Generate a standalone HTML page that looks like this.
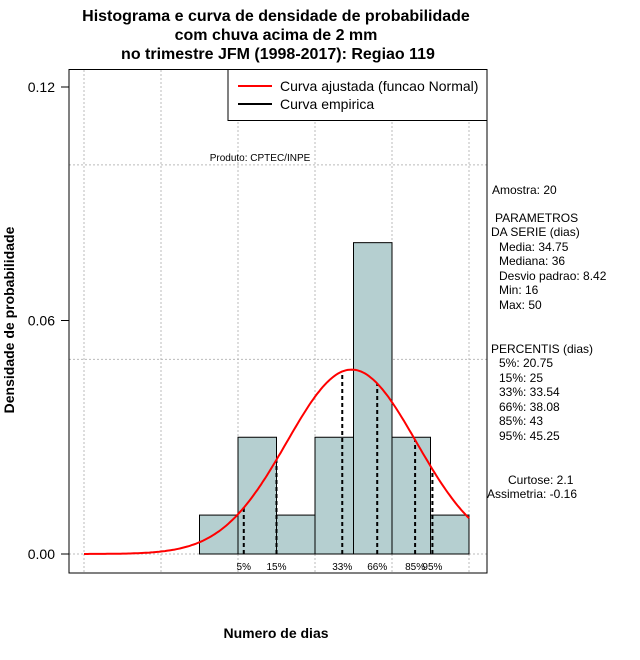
<!DOCTYPE html>
<html><head><meta charset="utf-8"><style>
body{margin:0;background:#fff}
svg{display:block;font-family:"Liberation Sans",sans-serif}
</style></head><body>
<svg id="c" width="640" height="660" viewBox="0 0 640 660">
<rect width="640" height="660" fill="#fff"/>
<g font-weight="bold" font-size="16" text-anchor="middle">
<text x="276" y="21">Histograma e curva de densidade de probabilidade</text>
<text x="276" y="40">com chuva acima de 2 mm</text>
<text x="278" y="59">no trimestre JFM (1998-2017): Regiao 119</text>
</g>
<g id="grid"></g>
<g id="bars"></g>
<g id="pct"></g>
<path id="curve" fill="none" stroke="#ff0000" stroke-width="2"/>
<rect x="69" y="69.5" width="418" height="503.5" fill="none" stroke="#000"/>
<g id="yaxis" font-size="14" text-anchor="end"></g>
<text x="14" y="320" font-size="14" font-weight="bold" text-anchor="middle" transform="rotate(-90 14 320)">Densidade de probabilidade</text>
<text x="276" y="638" font-size="14" font-weight="bold" text-anchor="middle">Numero de dias</text>
<text x="260" y="161" font-size="10" text-anchor="middle">Produto: CPTEC/INPE</text>
<g>
<rect x="228" y="69.5" width="259" height="51" fill="#fff" stroke="#000"/>
<line x1="238" y1="86" x2="272" y2="86" stroke="#ff0000" stroke-width="2"/>
<text x="280" y="91" font-size="14">Curva ajustada (funcao Normal)</text>
<line x1="238" y1="104" x2="272" y2="104" stroke="#000" stroke-width="2"/>
<text x="280" y="109" font-size="14">Curva empirica</text>
</g>
<g font-size="12">
<text x="492" y="194">Amostra: 20</text>
<text x="495" y="222">PARAMETROS</text>
<text x="491" y="236">DA SERIE (dias)</text>
<text x="499" y="251">Media: 34.75</text>
<text x="499" y="265">Mediana: 36</text>
<text x="499" y="280">Desvio padrao: 8.42</text>
<text x="499" y="294">Min: 16</text>
<text x="499" y="309">Max: 50</text>
<text x="491" y="353">PERCENTIS (dias)</text>
<text x="499" y="367">5%: 20.75</text>
<text x="499" y="382">15%: 25</text>
<text x="499" y="396">33%: 33.54</text>
<text x="499" y="411">66%: 38.08</text>
<text x="499" y="425">85%: 43</text>
<text x="499" y="440">95%: 45.25</text>
<text x="508" y="484">Curtose: 2.1</text>
<text x="487" y="498">Assimetria: -0.16</text>
</g>
</svg>
<script>
const binStarts=[15,20,25,30,35,40,45];
const binDensity=[0.01,0.03,0.01,0.03,0.08,0.03,0.01];
const pctLabels=["5%","15%","33%","66%","85%","95%"];
const pctValues=[20.75,25,33.54,38.08,43,45.25];
const yTicks=[0,0.06,0.12];
const yTickLabels=["0.00","0.06","0.12"];
const xGrid=[0,10,20,30,40,50];
const yGrid=[0,0.05,0.1];
const mean=34.75, sd=8.42, binW=5;
const NS="http://www.w3.org/2000/svg";
const X=v=>84+v*7.7;
const Y=v=>554-v*3891.7;
const pdf=x=>Math.exp(-0.5*((x-mean)/sd)**2)/(sd*Math.sqrt(2*Math.PI));
function mk(t,a,p){const e=document.createElementNS(NS,t);for(const k in a)e.setAttribute(k,a[k]);p.appendChild(e);return e;}
const g=document.getElementById('grid');
xGrid.forEach(v=>{const l=mk('line',{x1:X(v),x2:X(v),y1:70,y2:573,stroke:'#bbb','stroke-dasharray':'2,2'},g);

});
yGrid.forEach(v=>{const l=mk('line',{x1:69,x2:487,y1:Y(v),y2:Y(v),stroke:'#bbb','stroke-dasharray':'2,2'},g);

});
const b=document.getElementById('bars');
binStarts.forEach((s,i)=>{const r=mk('rect',{x:X(s),y:Y(binDensity[i]),width:X(s+binW)-X(s),height:Y(0)-Y(binDensity[i]),fill:'#b5cfd0',stroke:'#000'},b);

});
const p=document.getElementById('pct');
pctValues.forEach((v,i)=>{const l=mk('line',{x1:X(v),x2:X(v),y1:Y(0),y2:Y(pdf(v)),stroke:'#000','stroke-width':2,'stroke-dasharray':'4,3'},p);


const t=mk('text',{x:X(v),y:570,'font-size':10,'text-anchor':'middle'},p);t.textContent=pctLabels[i];

});
let d='';for(let x=0;x<=50;x+=0.25){d+=(x?'L':'M')+X(x).toFixed(1)+','+Y(pdf(x)).toFixed(1);}
document.getElementById('curve').setAttribute('d',d);
const ya=document.getElementById('yaxis');
yTicks.forEach((v,i)=>{mk('line',{x1:61,x2:69,y1:Y(v),y2:Y(v),stroke:'#000'},ya);
const t=mk('text',{x:55,y:Y(v)+5},ya);t.textContent=yTickLabels[i];

});
</script>
</body></html>
